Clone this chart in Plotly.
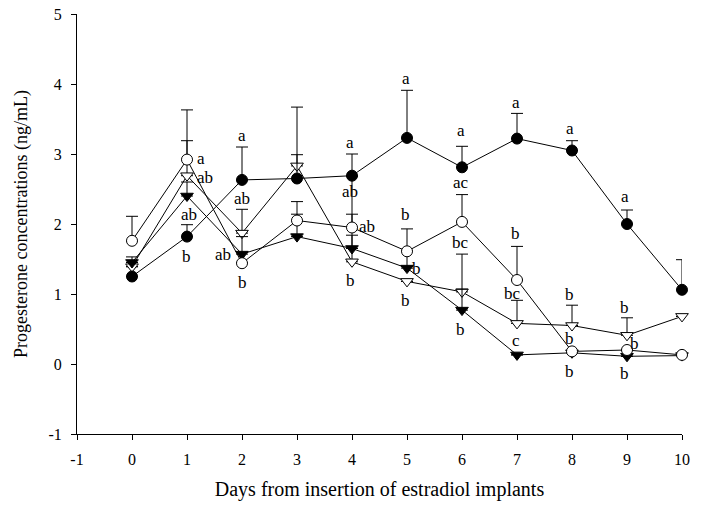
import plotly.graph_objects as go

days = [0, 1, 2, 3, 4, 5, 6, 7, 8, 9, 10]

# Filled circles
fc_val = [1.25, 1.82, 2.63, 2.65, 2.69, 3.23, 2.81, 3.22, 3.05, 2.00, 1.06]
fc_err = [0.00, 0.17, 0.47, 0.34, 0.31, 0.68, 0.30, 0.36, 0.14, 0.20, 0.43]
# Open circles
oc_val = [1.76, 2.92, 1.44, 2.05, 1.95, 1.61, 2.03, 1.20, 0.18, 0.20, 0.13]
oc_err = [0.35, 0.71, 0.00, 0.27, 0.19, 0.32, 0.39, 0.48, 0.00, 0.00, 0.00]
# Filled down-triangles
ft_val = [1.45, 2.40, 1.57, 1.82, 1.65, 1.37, 0.77, 0.13, 0.16, 0.11, 0.12]
ft_err = [0.08, 0.20, 0.25, 0.32, 0.19, 0.24, 0.30, 0.00, 0.00, 0.00, 0.00]
# Open down-triangles
ot_val = [1.39, 2.69, 1.87, 2.83, 1.46, 1.18, 1.03, 0.58, 0.55, 0.41, 0.68]
ot_err = [0.00, 0.50, 0.34, 0.84, 1.22, 0.00, 0.54, 0.33, 0.29, 0.25, 0.00]

# Tick labels
x_ticks = list(range(-1, 11))
x_ticktext = ["-1", "0", "1", "2", "3", "4", "5", "6", "7", "8", "9", "10"]
y_ticks = list(range(-1, 6))
y_ticktext = ["-1", "0", "1", "2", "3", "4", "5"]

# Significance letters: (day position, value position, text)
lab_x = [1.25, 1.33, 1.03, 0.99,
         2.0, 2.0, 1.65, 2.0,
         3.97, 3.97, 4.28, 3.97,
         4.98, 4.98, 5.18, 4.98,
         5.98, 5.98, 5.98, 5.98,
         6.98, 6.98, 6.92, 6.98,
         7.96, 7.96, 7.96, 7.96,
         8.96, 8.96, 9.14, 8.96]
lab_y = [2.94, 2.67, 2.13, 1.54,
         3.27, 2.37, 1.57, 1.16,
         3.16, 2.46, 1.96, 1.20,
         4.08, 2.13, 1.37, 0.91,
         3.33, 2.59, 1.74, 0.50,
         3.74, 1.87, 1.01, 0.33,
         3.36, 0.99, 0.37, -0.11,
         2.40, 0.81, 0.30, -0.13]
lab_t = ["a", "ab", "ab", "b",
         "a", "ab", "ab", "b",
         "a", "ab", "ab", "b",
         "a", "b", "b", "b",
         "a", "ac", "bc", "b",
         "a", "b", "bc", "c",
         "a", "b", "b", "b",
         "a", "b", "b", "b"]

FONT = "Liberation Serif"

fig = go.Figure()

def add_series(vals, errs, symbol, fill, size):
    fig.add_trace(go.Scatter(
        x=days, y=vals, mode="lines+markers",
        line=dict(color="black", width=1),
        marker=dict(symbol=symbol, size=size, color=fill,
                    line=dict(color="black", width=1)),
        error_y=dict(type="data", symmetric=False, array=errs,
                     arrayminus=[0] * len(errs), color="black",
                     thickness=1, width=6),
        showlegend=False, cliponaxis=False))

add_series(ot_val, ot_err, "triangle-down", "white", 11)
add_series(ft_val, ft_err, "triangle-down", "black", 11)
add_series(oc_val, oc_err, "circle", "white", 11)
add_series(fc_val, fc_err, "circle", "black", 11)

for x, y, t in zip(lab_x, lab_y, lab_t):
    fig.add_annotation(x=x, y=y, text=t, showarrow=False,
                       font=dict(family=FONT, size=17, color="black"))

fig.update_layout(
    width=701, height=506,
    margin=dict(l=77, r=19, t=14, b=72),
    paper_bgcolor="white", plot_bgcolor="white",
    font=dict(family=FONT, size=16, color="black"),
    xaxis=dict(range=[-1, 10], tickvals=x_ticks, ticktext=x_ticktext,
               showline=True, linecolor="black", linewidth=1,
               ticks="outside", ticklen=5, tickcolor="black",
               ticklabelstandoff=6, automargin=False,
               showgrid=False, zeroline=False,
               title=dict(text="Days from insertion of estradiol implants",
                          font=dict(family=FONT, size=20), standoff=14)),
    yaxis=dict(range=[-1, 5], tickvals=y_ticks, ticktext=y_ticktext,
               showline=True, linecolor="black", linewidth=1,
               ticks="outside", ticklen=5, tickcolor="black",
               ticklabelstandoff=6, automargin=False,
               showgrid=False, zeroline=False,
               title=dict(text="Progesterone concentrations (ng/mL)",
                          font=dict(family=FONT, size=18), standoff=16)),
)

fig.write_html("out.html")
